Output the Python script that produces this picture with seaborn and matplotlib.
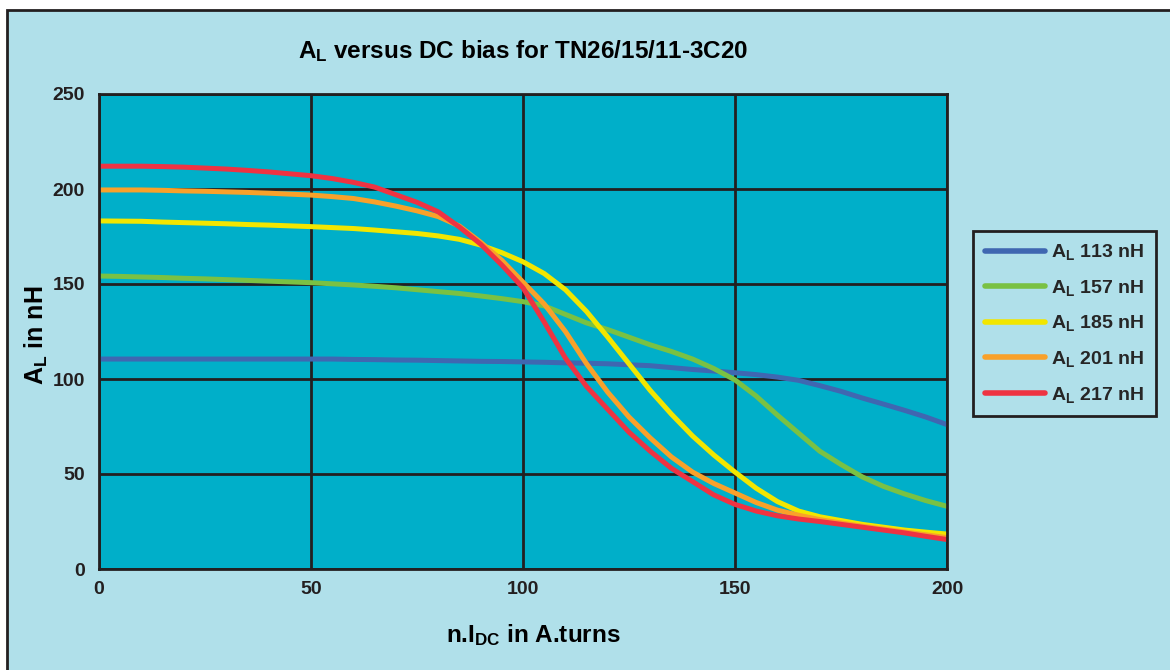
import numpy as np
import pandas as pd
import matplotlib
matplotlib.use("Agg")
import matplotlib.pyplot as plt
from matplotlib.patches import Rectangle
import seaborn as sns

# values (A_L in nH vs n.I_DC in A.turns)
x_turns = [0, 5, 10, 15, 20, 25, 30, 35, 40, 45, 50, 55, 60, 65, 70, 75, 80, 85, 90, 95, 100,
           105, 110, 115, 120, 125, 130, 135, 140, 145, 150, 155, 160, 165, 170, 175, 180,
           185, 190, 195, 200]
al_113 = [110.5, 110.5, 110.5, 110.5, 110.5, 110.5, 110.5, 110.5, 110.5, 110.5, 110.5,
          110.5, 110.3, 110.2, 110, 109.9, 109.7, 109.5, 109.3, 109.2, 109,
          108.8, 108.5, 108.3, 108, 107.5, 107, 106, 105, 104.2, 103.3,
          102.3, 101, 99.3, 96.5, 93.5, 90, 86.8, 83.5, 80, 76]
al_157 = [154.2, 154, 153.7, 153.4, 153, 152.7, 152.3, 151.9, 151.5, 151.1, 150.7,
          150.1, 149.5, 148.8, 148, 147, 146, 145, 143.7, 142.3, 140.7,
          138.5, 134, 129.5, 126, 122, 118, 114.5, 110.5, 105.5, 99.5,
          91, 81, 71.5, 62, 55, 48.5, 43.5, 39.5, 36, 33]
al_185 = [183.2, 183.1, 183, 182.6, 182.3, 182, 181.7, 181.3, 181, 180.6, 180.2,
          179.7, 179.2, 178.4, 177.5, 176.6, 175.3, 173.5, 170.5, 166.5, 161.7,
          155.5, 147, 135.5, 122, 108, 94, 81.5, 70, 60, 51,
          42.5, 35.5, 30.5, 27.5, 25.5, 23.5, 22, 20.5, 19.4, 18.4]
al_201 = [199.5, 199.5, 199.5, 199.3, 199, 198.8, 198.5, 198.2, 197.8, 197.3, 196.8,
          196, 195, 193.2, 191, 188.5, 185.5, 180.5, 172, 162.5, 151,
          139.5, 125, 108, 93, 80, 69, 59, 51, 45, 40,
          35, 31, 28.3, 26, 24.2, 22.5, 21, 19.5, 18, 16.5]
al_217 = [212, 212, 212, 211.8, 211.5, 211, 210.5, 209.8, 209, 208, 207,
          205.5, 203.5, 201, 197, 193, 188, 180, 171, 160, 148,
          130, 111, 96, 84, 72, 62, 53, 46, 39, 34,
          30.5, 28, 26.3, 25, 23.5, 22, 20.5, 19, 17.2, 15.5]

series_names = [r"$\mathbf{A_L}$ 113 nH", r"$\mathbf{A_L}$ 157 nH", r"$\mathbf{A_L}$ 185 nH",
                r"$\mathbf{A_L}$ 201 nH", r"$\mathbf{A_L}$ 217 nH"]
series_vals = [al_113, al_157, al_185, al_201, al_217]
colors = ["#3F67B1", "#7AC143", "#F2E600", "#F9A12A", "#EE3342"]

x_ticks = [0, 50, 100, 150, 200]
y_ticks = [0, 50, 100, 150, 200, 250]

df = pd.concat([pd.DataFrame({"x": x_turns, "AL": v, "series": n})
                for n, v in zip(series_names, series_vals)], ignore_index=True)

bg = "#B0E0EA"
plot_bg = "#00AFC9"
dark = "#231F20"

sns.set_style("white")
plt.rcParams["font.family"] = ["Liberation Sans", "DejaVu Sans"]
plt.rcParams["font.weight"] = "bold"
plt.rcParams["mathtext.fontset"] = "custom"
plt.rcParams["mathtext.rm"] = "Liberation Sans:bold"
plt.rcParams["mathtext.bf"] = "Liberation Sans:bold"
plt.rcParams["mathtext.it"] = "Liberation Sans:bold"

fig = plt.figure(figsize=(11.7, 6.7), dpi=100, facecolor="white")
# light blue frame running off the right and bottom edges
fig.patches.append(Rectangle((7 / 1170, -0.1), 1.2, 1.1 - 10 / 670,
                             transform=fig.transFigure, facecolor=bg,
                             edgecolor=dark, linewidth=2, zorder=-10))

ax = fig.add_axes([99 / 1170, 1 - 569 / 670, 848 / 1170, 475 / 670])
ax.set_facecolor(plot_bg)

sns.lineplot(data=df, x="x", y="AL", hue="series", palette=colors,
             linewidth=3.6, ax=ax, sort=False)

ax.set_xlim(0, 200)
ax.set_ylim(0, 250)
ax.set_xticks(x_ticks)
ax.set_yticks(y_ticks)
ax.grid(True, color=dark, linewidth=2)
ax.set_axisbelow(True)
for s in ax.spines.values():
    s.set_color(dark)
    s.set_linewidth(2)
ax.tick_params(length=0, labelsize=14, colors=dark)
ax.tick_params(axis="x", pad=9)
ax.tick_params(axis="y", pad=10)
for lab in ax.get_xticklabels() + ax.get_yticklabels():
    lab.set_fontweight("bold")

ax.set_title(r"$\mathbf{A_L}$ versus DC bias for TN26/15/11-3C20",
             fontsize=17.5, fontweight="bold", color="black", pad=26)
ax.set_xlabel(r"n.I$\mathbf{_{DC}}$ in A.turns", fontsize=17.5, fontweight="bold",
              color="black")
ax.xaxis.set_label_coords(0.5118, -0.112)
ax.set_ylabel(r"$\mathbf{A_L}$ in nH", fontsize=18, fontweight="bold",
              color="black")
ax.yaxis.set_label_coords(-0.058, 0.4926)

leg = ax.legend(loc="center left", bbox_to_anchor=(1.0307, 0.517), fontsize=14,
                frameon=True, fancybox=False, handlelength=3.1,
                handletextpad=0.3, labelspacing=0.8, borderpad=0.6,
                borderaxespad=0)
leg.get_frame().set_facecolor(bg)
leg.get_frame().set_edgecolor(dark)
leg.get_frame().set_linewidth(2)
leg.get_frame().set_alpha(1)
for line in leg.get_lines():
    line.set_linewidth(4)

fig.savefig("out.png", dpi=100, facecolor="white")
